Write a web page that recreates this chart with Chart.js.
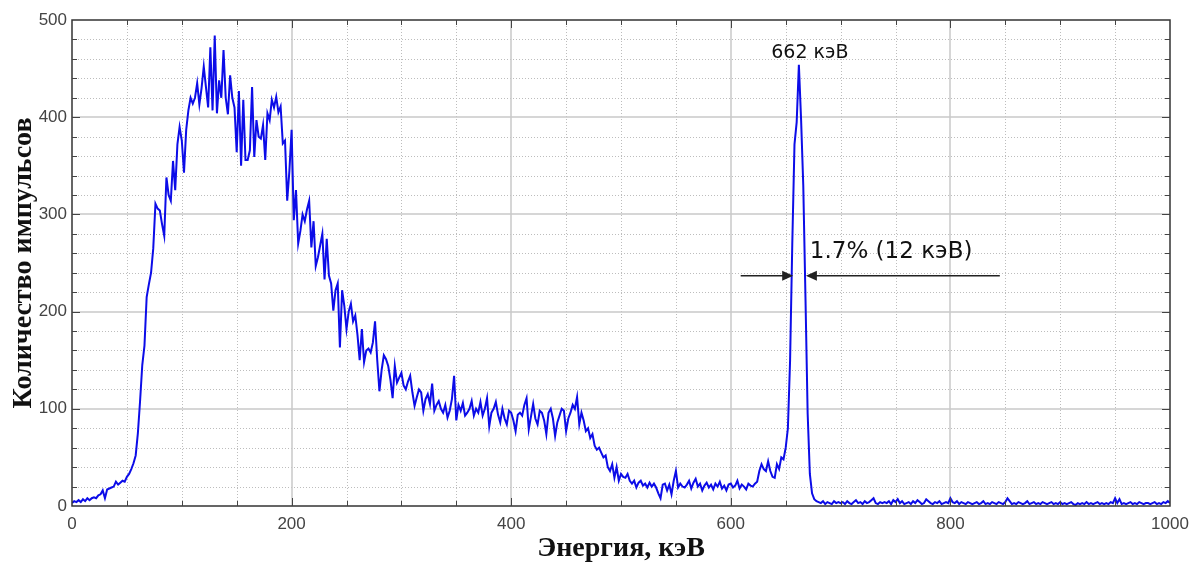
<!DOCTYPE html>
<html>
<head>
<meta charset="utf-8">
<script src="https://cdn.jsdelivr.net/npm/chart.js@4.4.1/dist/chart.umd.min.js"></script>
<style>
  html, body { margin: 0; padding: 0; background: #fff; }
  #wrap { width: 1190px; height: 563px; }
</style>
</head>
<body>
<div id="wrap"><canvas id="spectrum"></canvas></div>
<script>
// channel calibration: one point every 2 keV starting from 0
const energyStart = 0;
const energyStep = 2;

// counts, 10 values per row (20 keV per row)
const lowEnergyCounts = [
  3, 5, 4, 6, 4, 7, 5, 8, 6, 8,
  9, 8, 11, 12, 16, 8, 17, 18, 19, 20,
  25, 22, 24, 26, 25, 30, 33, 38, 44, 52,
  75, 108, 145, 165, 215, 228, 240, 265, 311, 306,
  304, 290, 278, 338, 320, 314, 355, 325, 372, 390,
  376, 343, 387, 407, 420, 414, 420, 435, 413, 430,
  452, 431, 410, 472, 407, 484, 404, 438, 420, 469,
  420, 403, 443, 420, 410, 364, 427, 350, 418, 356,
  356, 366, 431, 359, 397, 380, 378, 392, 356, 404,
  397, 418, 410, 421, 405, 411, 373, 376, 314, 345
];
const comptonCounts = [
  387, 294, 325, 270, 283, 300, 293, 305, 314, 266,
  293, 247, 256, 268, 280, 233, 275, 237, 229, 201,
  222, 229, 163, 222, 206, 182, 200, 208, 190, 196,
  176, 150, 182, 148, 160, 162, 158, 168, 190, 150,
  118, 140, 155, 151, 144, 130, 111, 144, 127, 132,
  137, 124, 120, 128, 134, 117, 103, 112, 120, 117,
  98, 110, 115, 105, 126, 98, 104, 108, 100, 96,
  104, 91, 98, 110, 134, 88, 104, 98, 106, 93,
  96, 100, 108, 93, 100, 96, 107, 93, 100, 111,
  82, 96, 100, 107, 94, 86, 100, 90, 84, 98,
  96, 88, 77, 94, 96, 93, 104, 111, 79, 92,
  105, 90, 84, 98, 96, 88, 74, 96, 100, 90,
  72, 86, 93, 100, 98, 77, 90, 96, 104, 100,
  112, 84, 96, 88, 77, 80, 70, 74, 62, 58,
  60, 55, 50, 52, 40, 36, 43, 29, 40, 26
];
const valleyCounts = [
  33, 30, 29, 33, 26, 23, 26, 19, 24, 26,
  21, 23, 19, 24, 20, 23, 19, 13, 8, 22,
  23, 16, 22, 12, 26, 36, 19, 23, 20, 19,
  22, 26, 18, 24, 28, 20, 23, 16, 21, 24,
  19, 22, 17, 23, 20, 25, 18, 21, 16, 22,
  23, 19, 21, 26, 18, 22, 20, 17, 23, 21,
  20, 23, 25, 36, 43, 38, 36, 46, 36, 30
];
const peakCounts = [
  29, 43, 38, 50, 48, 60, 80, 150, 270, 372,
  395, 454, 398, 330, 215, 95, 33, 13, 7, 5,
  4, 3, 5, 2, 4, 3, 2, 5, 3, 4
];
const tailCounts = [
  3, 4, 2, 5, 3, 2, 4, 6, 3, 4,
  2, 5, 3, 4, 6, 8, 3, 2, 4, 3,
  4, 3, 5, 2, 6, 4, 7, 3, 5, 2,
  3, 4, 2, 5, 3, 6, 4, 2, 3, 7,
  5, 3, 2, 4, 3, 5, 2, 3, 4, 3,
  8, 4, 3, 5, 2, 4, 3, 2, 4, 3,
  2, 3, 4, 2, 3, 5, 2, 3, 2, 4,
  3, 2, 4, 3, 2, 4, 8, 5, 2, 3,
  2, 4, 3, 2, 3, 5, 2, 3, 4, 2,
  3, 2, 4, 3, 2, 3, 4, 2, 3, 2,
  4, 2, 3, 2, 3, 4, 2, 1, 3, 2,
  3, 2, 4, 2, 3, 2, 3, 4, 2, 3,
  2, 3, 2, 4, 3, 8, 3, 7, 2, 3,
  2, 3, 4, 2, 3, 2, 4, 3, 2, 3,
  3, 2, 3, 4, 2, 3, 2, 4, 3, 5,
  3
];

const xTickValues = [0, 200, 400, 600, 800, 1000];
const yTickValues = [0, 100, 200, 300, 400, 500];

// annotation text
const peakLabel = '662 кэВ';
const fwhmLabel = '1.7% (12 кэВ)';

const counts = [].concat(lowEnergyCounts, comptonCounts, valleyCounts, peakCounts, tailCounts);
const points = counts.map((c, i) => ({ x: energyStart + i * energyStep, y: c }));

// annotation placement in data units (energy, counts)
const notes = {
  peakText: { x: 672, y: 461 },
  fwhmLevel: 237,
  leftArrow: [609, 656.8],
  rightArrow: [668.4, 845],
  fwhmText: { x: 672, y: 255 }
};

function seg(ctx, x1, y1, x2, y2) {
  ctx.beginPath();
  ctx.moveTo(x1, y1);
  ctx.lineTo(x2, y2);
  ctx.stroke();
}

function arrowHead(ctx, tx, ty, dir) {
  ctx.beginPath();
  ctx.moveTo(tx, ty);
  ctx.lineTo(tx - dir * 11, ty - 5);
  ctx.lineTo(tx - dir * 11, ty + 5);
  ctx.closePath();
  ctx.fill();
}

const spectrumFrame = {
  id: 'spectrumFrame',
  beforeDatasetsDraw(chart) {
    const { ctx, chartArea: a, scales: { x, y } } = chart;
    ctx.save();
    // minor dotted grid
    ctx.lineWidth = 1;
    ctx.strokeStyle = '#bdbdbd';
    ctx.setLineDash([1, 2]);
    for (let e = 50; e < 1000; e += 50) {
      if (e % 200 === 0) continue;
      const px = Math.round(x.getPixelForValue(e)) + 0.5;
      seg(ctx, px, a.top, px, a.bottom);
    }
    for (let c = 20; c < 500; c += 20) {
      if (c % 100 === 0) continue;
      const py = Math.round(y.getPixelForValue(c)) + 0.5;
      seg(ctx, a.left, py, a.right, py);
    }
    // major solid grid
    ctx.setLineDash([]);
    ctx.strokeStyle = '#c9c9c9';
    ctx.lineWidth = 1.5;
    for (let e = 200; e < 1000; e += 200) {
      const px = Math.round(x.getPixelForValue(e));
      seg(ctx, px, a.top, px, a.bottom);
    }
    for (let c = 100; c < 500; c += 100) {
      const py = Math.round(y.getPixelForValue(c));
      seg(ctx, a.left, py, a.right, py);
    }
    ctx.restore();
  },
  afterDatasetsDraw(chart) {
    const { ctx, chartArea: a, scales: { x, y } } = chart;
    ctx.save();
    // frame
    ctx.strokeStyle = '#333';
    ctx.lineWidth = 1.5;
    ctx.strokeRect(a.left, a.top, a.right - a.left, a.bottom - a.top);
    // inward ticks on every side
    ctx.lineWidth = 1;
    ctx.strokeStyle = '#444';
    for (let e = 50; e < 1000; e += 50) {
      const px = Math.round(x.getPixelForValue(e)) + 0.5;
      const len = e % 200 === 0 ? 8 : 5;
      seg(ctx, px, a.bottom, px, a.bottom - len);
      seg(ctx, px, a.top, px, a.top + len);
    }
    for (let c = 20; c < 500; c += 20) {
      const py = Math.round(y.getPixelForValue(c)) + 0.5;
      const len = c % 100 === 0 ? 8 : 5;
      seg(ctx, a.left, py, a.left + len, py);
      seg(ctx, a.right, py, a.right - len, py);
    }

    // peak label
    ctx.fillStyle = '#111';
    ctx.font = '19px "DejaVu Sans"';
    ctx.textAlign = 'center';
    ctx.textBaseline = 'alphabetic';
    ctx.fillText(peakLabel, x.getPixelForValue(notes.peakText.x), y.getPixelForValue(notes.peakText.y));

    // FWHM arrows
    const ly = y.getPixelForValue(notes.fwhmLevel);
    ctx.strokeStyle = '#222';
    ctx.fillStyle = '#222';
    ctx.lineWidth = 1.5;
    const l0 = x.getPixelForValue(notes.leftArrow[0]);
    const l1 = x.getPixelForValue(notes.leftArrow[1]);
    seg(ctx, l0, ly, l1 - 6, ly);
    arrowHead(ctx, l1, ly, 1);
    const r0 = x.getPixelForValue(notes.rightArrow[0]);
    const r1 = x.getPixelForValue(notes.rightArrow[1]);
    seg(ctx, r0 + 6, ly, r1, ly);
    arrowHead(ctx, r0, ly, -1);

    ctx.fillStyle = '#111';
    ctx.font = '23px "DejaVu Sans"';
    ctx.textAlign = 'left';
    ctx.fillText(fwhmLabel, x.getPixelForValue(notes.fwhmText.x), y.getPixelForValue(notes.fwhmText.y));
    ctx.restore();
  }
};

new Chart(document.getElementById('spectrum'), {
  type: 'line',
  data: {
    datasets: [{
      label: 'Спектр',
      data: points,
      borderColor: '#0c0ce8',
      borderWidth: 2,
      pointRadius: 0,
      tension: 0,
      fill: false
    }]
  },
  options: {
    responsive: true,
    maintainAspectRatio: false,
    animation: false,
    devicePixelRatio: 1,
    layout: { padding: { left: 0, right: 20, top: 20, bottom: 0 } },
    plugins: {
      legend: { display: false },
      tooltip: { enabled: false }
    },
    scales: {
      x: {
        type: 'linear',
        min: 0,
        max: 1000,
        grid: { display: false, drawTicks: false },
        border: { display: false },
        afterBuildTicks: (scale) => { scale.ticks = xTickValues.map(v => ({ value: v })); },
        afterFit: (scale) => {
          scale.height = 57;
          scale.paddingLeft = 0;
          scale.paddingRight = 0;
        },
        ticks: {
          padding: 8,
          color: '#444',
          font: { family: 'Liberation Sans', size: 17 },
          maxRotation: 0,
          callback: (v) => String(v)
        },
        title: {
          display: true,
          text: 'Энергия, кэВ',
          color: '#111',
          font: { family: 'Liberation Serif', size: 28, weight: 'bold', lineHeight: 1 },
          padding: { top: 0, bottom: 0 }
        }
      },
      y: {
        type: 'linear',
        min: 0,
        max: 500,
        grid: { display: false, drawTicks: false },
        border: { display: false },
        afterBuildTicks: (scale) => { scale.ticks = yTickValues.map(v => ({ value: v })); },
        afterFit: (scale) => { scale.width = 72; },
        ticks: {
          padding: 5,
          color: '#444',
          font: { family: 'Liberation Sans', size: 17 }
        },
        title: {
          display: true,
          text: 'Количество импульсов',
          color: '#111',
          font: { family: 'Liberation Serif', size: 28, weight: 'bold', lineHeight: 1 },
          padding: { top: 10, bottom: 0 }
        }
      }
    }
  },
  plugins: [spectrumFrame]
});
</script>
</body>
</html>
